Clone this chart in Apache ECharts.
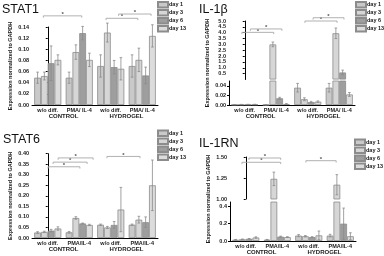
<!DOCTYPE html>
<html><head><meta charset="utf-8">
<script src="https://cdn.jsdelivr.net/npm/echarts@6/dist/echarts.min.js"></script>
<style>html,body{margin:0;padding:0;background:#fff}#c{width:384px;height:256px}</style>
</head><body><div id="c"></div><script>
// ---------- data ----------
const groupsA = ['w/o diff.', 'PMA/ IL-4', 'w/o diff.', 'PMA/ IL-4'];
const groupsB = ['w/o diff.', 'PMA/IL-4', 'w/o diff.', 'PMA/IL-4'];
const conditions = ['CONTROL', 'HYDROGEL'];
const days = ['day 1', 'day 3', 'day 6', 'day 13'];
const yName = 'Expression normalized to GAPDH';

// STAT1 (per day, across the 4 groups)
const stat1Day1 = [0.049, 0.049, 0.070, 0.070];
const stat1Day3 = [0.052, 0.095, 0.130, 0.081];
const stat1Day6 = [0.075, 0.129, 0.068, 0.053];
const stat1Day13 = [0.081, 0.081, 0.065, 0.124];
const stat1Err1 = [0.010, 0.010, 0.020, 0.020];
const stat1Err3 = [0.007, 0.013, 0.017, 0.021];
const stat1Err6 = [0.031, 0.012, 0.012, 0.015];
const stat1Err13 = [0.009, 0.012, 0.020, 0.020];
const stat1Ticks = [0, 0.02, 0.04, 0.06, 0.08, 0.10, 0.12, 0.14];
const stat1Sig = [[-0.14, 1.08, 0.160], [1.85, 2.86, 0.1556], [2.25, 3.28, 0.1633]];

// IL-1beta
const il1bDay1 = [0.0008, 0.0005, 0.036, 0.036];
const il1bDay3 = [0.0010, 3.00, 0.012, 3.95];
const il1bDay6 = [0.0011, 0.014, 0.006, 0.60];
const il1bDay13 = [0.0012, 0.002, 0.007, 0.022];
const il1bErr1 = [0.0003, 0.0002, 0.009, 0.009];
const il1bErr3 = [0.0003, 0.20, 0.003, 0.45];
const il1bErr6 = [0.0003, 0.002, 0.0015, 0.20];
const il1bErr13 = [0.0003, 0.001, 0.0015, 0.004];
const il1bTicksUpper = [0.5, 1.0, 1.5, 2.0, 2.5, 3.0, 3.5, 4.0, 4.5, 5.0];
const il1bTicksLower = [0, 0.02, 0.04];
const il1bSig = [[-0.09, 0.92, 4.03], [0.18, 1.18, 4.32], [1.91, 2.93, 5.0], [2.17, 3.15, 5.28]];

// STAT6
const stat6Day1 = [0.026, 0.027, 0.063, 0.063];
const stat6Day3 = [0.029, 0.095, 0.050, 0.087];
const stat6Day6 = [0.035, 0.069, 0.062, 0.075];
const stat6Day13 = [0.045, 0.062, 0.135, 0.250];
const stat6Err1 = [0.004, 0.004, 0.003, 0.003];
const stat6Err3 = [0.003, 0.006, 0.005, 0.016];
const stat6Err6 = [0.006, 0.002, 0.016, 0.025];
const stat6Err13 = [0.008, 0.003, 0.105, 0.120];
const stat6Ticks = [0, 0.05, 0.10, 0.15, 0.20, 0.25, 0.30, 0.35, 0.40];
const stat6Sig = [[0.01, 1.02, 0.338], [0.17, 1.25, 0.36], [0.33, 1.44, 0.38], [1.88, 2.93, 0.387]];

// IL-1RN
const il1rnDay1 = [0.015, 0.015, 0.062, 0.062];
const il1rnDay3 = [0.020, 1.24, 0.055, 1.17];
const il1rnDay6 = [0.025, 0.050, 0.045, 0.20];
const il1rnDay13 = [0.040, 0.045, 0.065, 0.055];
const il1rnErr1 = [0.003, 0.003, 0.012, 0.015];
const il1rnErr3 = [0.003, 0.08, 0.008, 0.12];
const il1rnErr6 = [0.004, 0.006, 0.005, 0.18];
const il1rnErr13 = [0.008, 0.005, 0.050, 0.040];
const il1rnTicksUpper = [1.00, 1.25, 1.50];
const il1rnTicksLower = [0, 0.2, 0.4];
const il1rnSig = [[-0.12, 1.11, 1.437], [0.10, 1.11, 1.488], [1.91, 2.87, 1.456]];

// ---------- styling / build ----------
const FONT = '"Liberation Sans", Arial, sans-serif';
const COLORS = ['#c9c9c9', '#d6d6d6', '#9e9e9e', '#dcdcdc'];
const BORDER = '#8c8c8c';
const GAP = 0.14;

const option = {
  animation: false, backgroundColor: '#fff',
  textStyle: { fontFamily: FONT },
  title: [], legend: [], grid: [], xAxis: [], yAxis: [], series: []
};

function errItem(params, api) {
  const cat = api.value(0), v = api.value(1), e = api.value(2), s = api.value(3), lo = api.value(4);
  const bw = api.size([1, 0])[0];
  const w = bw * (1 - GAP) / 4;
  const c = api.coord([cat, v]);
  const x = c[0] + (s - 1.5) * w;
  const yt = api.coord([cat, v + e])[1];
  const yb = api.coord([cat, Math.max(v - e, lo)])[1];
  const st = { stroke: '#8a8a8a', lineWidth: 0.8 };
  return { type: 'group', children: [
    { type: 'line', shape: { x1: x, y1: yt, x2: x, y2: yb }, style: st },
    { type: 'line', shape: { x1: x - 1.3, y1: yt, x2: x + 1.3, y2: yt }, style: st },
    { type: 'line', shape: { x1: x - 1.3, y1: yb, x2: x + 1.3, y2: yb }, style: st }
  ]};
}

function sigItem(params, api) {
  const p1 = api.coord([api.value(0), api.value(2)]);
  const p2 = api.coord([api.value(1), api.value(2)]);
  return { type: 'group', children: [
    { type: 'polyline', shape: { points: [[p1[0], p1[1] + 1.8], [p1[0], p1[1]], [p2[0], p2[1]], [p2[0], p2[1] + 1.8]] },
      style: { stroke: '#a8a8a8', fill: null, lineWidth: 0.9 } },
    { type: 'text', style: { text: '*', x: (p1[0] + p2[0]) / 2, y: p1[1] + 1.5, align: 'center', verticalAlign: 'bottom',
      font: 'bold 6px ' + FONT, fill: '#555' } }
  ]};
}

function labelStyle(extra) {
  return Object.assign({ fontSize: 5.5, fontWeight: 'bold', color: '#1a1a1a', fontFamily: FONT }, extra);
}

function panel(p) {
  option.title.push({ text: p.title, left: p.titlePos[0], top: p.titlePos[1], padding: 0,
    textStyle: { fontSize: 12.5, fontWeight: 'normal', color: '#111', fontFamily: FONT } });
  option.legend.push({ data: days, orient: 'vertical', left: p.legendPos[0], top: p.legendPos[1], padding: 0,
    itemWidth: 10, itemHeight: 5.5, itemGap: 0.5, icon: 'rect', selectedMode: false,
    textStyle: labelStyle({ lineHeight: 6, padding: [0, 0, 0, -4] }) });
  const n = p.parts.length;
  p.parts.forEach((part, k) => {
    const gi = option.grid.length;
    option.grid.push(part.rect);
    const isBottom = k === n - 1;
    const xi = option.xAxis.length;
    option.xAxis.push({ type: 'category', gridIndex: gi, data: p.cats, show: isBottom, position: 'bottom',
      axisLine: { lineStyle: { color: '#000', width: 1 } }, axisTick: { show: false },
      axisLabel: labelStyle({ margin: 2.5, interval: 0 }) });
    const yi = option.yAxis.length;
    const ticks = part.ticks;
    option.yAxis.push({ type: 'value', gridIndex: gi, min: part.min, max: part.max, interval: part.interval,
      axisLine: { show: true, lineStyle: { color: '#000' } },
      axisTick: { show: true, length: 2, lineStyle: { color: '#000' } },
      splitLine: { show: false },
      axisLabel: labelStyle({ margin: 3, showMinLabel: part.showMin !== false, showMaxLabel: part.showMax !== false,
        formatter: v => (ticks.some(t => Math.abs(t - v) < 1e-9) ? v.toFixed(part.dec) : '') }),
      name: n === 1 ? yName : '', nameLocation: 'middle', nameGap: 19,
      nameTextStyle: labelStyle({}) });
    if (isBottom) {
      option.xAxis.push({ type: 'category', gridIndex: gi, data: conditions, position: 'bottom',
        axisLine: { show: false }, axisTick: { show: false }, splitLine: { show: false },
        axisLabel: labelStyle({ fontSize: 6, margin: 8.5, interval: 0 }) });
    }
    const lowerMax = isBottom ? null : p.parts[k + 1].max;
    const errData = [];
    days.forEach((d, s) => {
      const vals = p.mean[s].map(v => (lowerMax === null || v > lowerMax) ? v : '-');
      option.series.push({ type: 'bar', name: d, xAxisIndex: xi, yAxisIndex: yi, data: vals,
        barGap: '0%', barCategoryGap: (GAP * 100) + '%', clip: true,
        itemStyle: { color: COLORS[s], borderColor: BORDER, borderWidth: 0.8 } });
      p.mean[s].forEach((v, c) => {
        const inPart = lowerMax === null ? (v <= part.max) : (v > lowerMax);
        if (inPart) errData.push([c, v, p.err[s][c], s, part.min]);
      });
    });
    option.series.push({ type: 'custom', name: 'err', xAxisIndex: xi, yAxisIndex: yi, renderItem: errItem,
      data: errData, encode: { x: 0, y: 1 }, silent: true, z: 3 });
    if (k === 0) {
      const vx = option.xAxis.length;
      option.xAxis.push({ type: 'value', gridIndex: gi, min: -0.5, max: 3.5, show: false });
      option.series.push({ type: 'custom', name: 'sig', xAxisIndex: vx, yAxisIndex: yi, renderItem: sigItem,
        data: p.sig, encode: { x: [0, 1], y: 2 }, silent: true, clip: false, z: 4 });
    }
  });
  if (n > 1) {
    const gi = option.grid.length;
    option.grid.push(p.nameRect);
    option.xAxis.push({ type: 'value', gridIndex: gi, show: false, min: 0, max: 1 });
    option.yAxis.push({ type: 'value', gridIndex: gi, min: 0, max: 1, axisLine: { show: false }, axisTick: { show: false },
      axisLabel: { show: false }, splitLine: { show: false },
      name: yName, nameLocation: 'middle', nameGap: 19, nameTextStyle: labelStyle({}) });
  }
}

panel({ title: 'STAT1', titlePos: [2, 3], legendPos: [157, 1], cats: groupsA,
  mean: [stat1Day1, stat1Day3, stat1Day6, stat1Day13], err: [stat1Err1, stat1Err3, stat1Err6, stat1Err13], sig: stat1Sig,
  parts: [{ rect: { left: 32, top: 27, width: 126, height: 78 }, min: 0, max: 0.14, interval: 0.02, dec: 2, ticks: stat1Ticks }] });

panel({ title: 'IL-1β', titlePos: [199, 3], legendPos: [355, 1], cats: groupsA,
  mean: [il1bDay1, il1bDay3, il1bDay6, il1bDay13], err: [il1bErr1, il1bErr3, il1bErr6, il1bErr13], sig: il1bSig,
  nameRect: { left: 229, top: 21, width: 126, height: 84 },
  parts: [
    { rect: { left: 229, top: 21, width: 126, height: 58.5 }, min: 0, max: 5, interval: 0.5, dec: 1, showMin: false, ticks: il1bTicksUpper },
    { rect: { left: 229, top: 81, width: 126, height: 24 }, min: 0, max: 0.05, interval: 0.02, dec: 2, showMax: false, ticks: il1bTicksLower }
  ] });

panel({ title: 'STAT6', titlePos: [3, 133], legendPos: [157, 129.5], cats: groupsB,
  mean: [stat6Day1, stat6Day3, stat6Day6, stat6Day13], err: [stat6Err1, stat6Err3, stat6Err6, stat6Err13], sig: stat6Sig,
  parts: [{ rect: { left: 32, top: 153.7, width: 126, height: 84.3 }, min: 0, max: 0.40, interval: 0.05, dec: 2, ticks: stat6Ticks }] });

panel({ title: 'IL-1RN', titlePos: [199, 137], legendPos: [354, 138.5], cats: groupsB,
  mean: [il1rnDay1, il1rnDay3, il1rnDay6, il1rnDay13], err: [il1rnErr1, il1rnErr3, il1rnErr6, il1rnErr13], sig: il1rnSig,
  nameRect: { left: 230, top: 157, width: 126, height: 84 },
  parts: [
    { rect: { left: 230, top: 157, width: 126, height: 42 }, min: 1.0, max: 1.5, interval: 0.25, dec: 2, ticks: il1rnTicksUpper },
    { rect: { left: 230, top: 202, width: 126, height: 39 }, min: 0, max: 0.45, interval: 0.2, dec: 1, showMax: false, ticks: il1rnTicksLower }
  ] });

const chart = echarts.init(document.getElementById('c'), null, { renderer: 'canvas', width: 384, height: 256 });
chart.setOption(option);
</script></body></html>
